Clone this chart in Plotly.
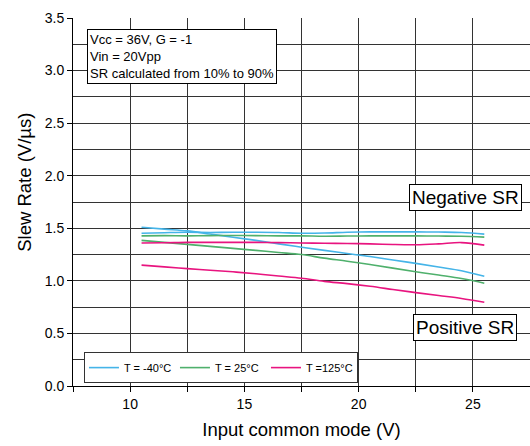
import plotly.graph_objects as go

x_vals = [10.5, 11.5, 12.5, 13.5, 14.5, 15.5, 16.5, 17.5, 18.5, 19.5, 20.5, 21.5, 22.5, 23.5, 24.5, 25.5]

blue_neg = [1.453, 1.458, 1.462, 1.460, 1.462, 1.462, 1.460, 1.453, 1.455, 1.462, 1.466, 1.466, 1.466, 1.464, 1.460, 1.444]
blue_pos = [1.510, 1.492, 1.475, 1.445, 1.415, 1.385, 1.352, 1.320, 1.290, 1.260, 1.231, 1.198, 1.166, 1.131, 1.096, 1.044]
green_neg = [1.428, 1.430, 1.428, 1.430, 1.432, 1.430, 1.428, 1.428, 1.424, 1.426, 1.428, 1.428, 1.428, 1.426, 1.424, 1.416]
green_pos = [1.385, 1.366, 1.347, 1.328, 1.309, 1.290, 1.270, 1.250, 1.216, 1.187, 1.155, 1.121, 1.087, 1.055, 1.022, 0.978]
pink_neg = [1.360, 1.362, 1.366, 1.366, 1.366, 1.366, 1.364, 1.360, 1.358, 1.355, 1.352, 1.346, 1.344, 1.352, 1.364, 1.340]
pink_pos = [1.150, 1.133, 1.116, 1.101, 1.086, 1.067, 1.046, 1.025, 0.995, 0.974, 0.948, 0.918, 0.888, 0.860, 0.833, 0.797]

series_names = ["T = -40°C", "T = 25°C", "T =125°C"]
colors = ["#45b4e8", "#4fb06c", "#e8147f"]

x_tickvals = [10, 15, 20, 25]
y_tickvals = [0.0, 0.5, 1.0, 1.5, 2.0, 2.5, 3.0, 3.5]

FONT = "Liberation Sans, Arial, sans-serif"

fig = go.Figure()
groups = [(blue_neg, blue_pos), (green_neg, green_pos), (pink_neg, pink_pos)]
for (neg, pos), name, col in zip(groups, series_names, colors):
    fig.add_trace(go.Scatter(x=x_vals, y=neg, mode="lines", name=name,
                             line=dict(color=col, width=1.6, shape="spline"),
                             legendgroup=name, showlegend=True))
    fig.add_trace(go.Scatter(x=x_vals, y=pos, mode="lines", name=name,
                             line=dict(color=col, width=1.6, shape="spline"),
                             legendgroup=name, showlegend=False))

grid_col = "#333333"
fig.update_layout(
    width=530, height=446,
    margin=dict(l=73, r=0, t=18, b=60),
    paper_bgcolor="white", plot_bgcolor="white",
    font=dict(family=FONT, color="black", size=14),
    xaxis=dict(range=[7.5, 27.5], tickvals=x_tickvals, ticks="outside", ticklen=5,
               tickcolor="black", showline=True, linecolor="black", linewidth=1,
               showgrid=True, gridcolor=grid_col, gridwidth=1, zeroline=False,
               minor=dict(dtick=2.5, tick0=0, ticks="outside", ticklen=5, tickcolor="black",
                          showgrid=True, gridcolor=grid_col, gridwidth=1),
               title=dict(text="Input common mode (V)", font=dict(size=18.5), standoff=12),
               tickfont=dict(size=14)),
    yaxis=dict(range=[0, 3.5], tickvals=y_tickvals, tickformat=".1f", ticks="outside", ticklen=5,
               tickcolor="black", showline=True, linecolor="black", linewidth=1,
               showgrid=True, gridcolor=grid_col, gridwidth=1, zeroline=False,
               minor=dict(dtick=0.25, tick0=0, showgrid=True, gridcolor=grid_col, gridwidth=1),
               tickfont=dict(size=14)),
    legend=dict(orientation="h", x=0.024, y=0.05, xanchor="left", yanchor="middle",
                bgcolor="white", bordercolor="#333", borderwidth=1,
                font=dict(size=11), itemwidth=30, tracegroupgap=0,
                entrywidth=46, entrywidthmode="pixels"),
    showlegend=True,
)

fig.add_annotation(xref="paper", yref="paper", x=-0.108, y=0.554, xanchor="center", yanchor="middle",
                   text="Slew Rate (V/µs)", textangle=-90, showarrow=False, font=dict(size=18.5))

fig.add_annotation(xref="paper", yref="paper", x=0.0306, y=0.970, xanchor="left", yanchor="top",
                   text="Vcc = 36V, G = -1<br>Vin = 20Vpp<br>SR calculated from 10% to 90%",
                   align="left", showarrow=False, font=dict(size=13),
                   bgcolor="white", bordercolor="black", borderwidth=1, borderpad=2)
fig.add_annotation(xref="paper", yref="paper", x=0.858, y=0.512, xanchor="center", yanchor="middle",
                   text="Negative SR", showarrow=False, font=dict(size=19),
                   bgcolor="white", bordercolor="black", borderwidth=1, borderpad=2)
fig.add_annotation(xref="paper", yref="paper", x=0.857, y=0.1595, xanchor="center", yanchor="middle",
                   text="Positive SR", showarrow=False, font=dict(size=19),
                   bgcolor="white", bordercolor="black", borderwidth=1, borderpad=2)

fig.write_html("out.html")
